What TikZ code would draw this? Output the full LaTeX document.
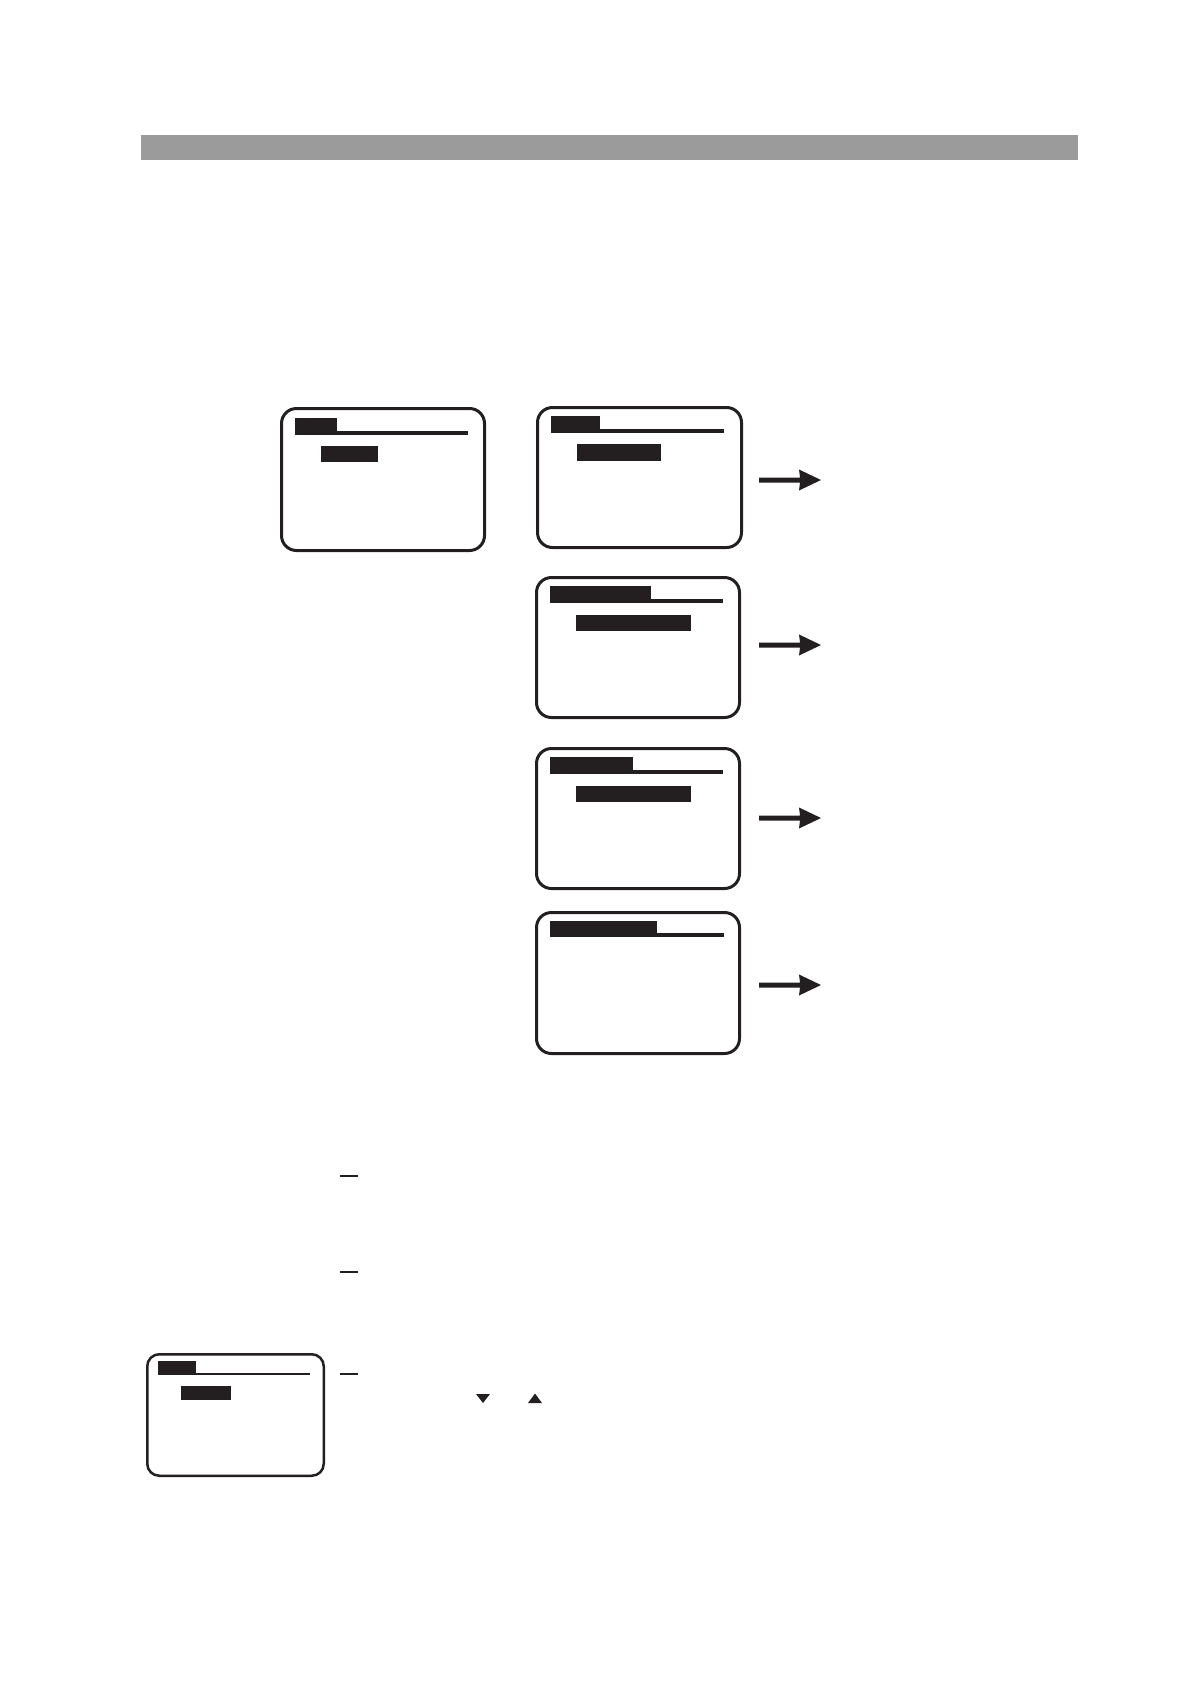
\documentclass[tikz,border=0pt]{standalone}
\usepackage{tikz}
\definecolor{ink}{HTML}{231F20}
\definecolor{barcol}{HTML}{9B9B9B}
\tikzset{
  screen/.style={draw=ink, line width=3pt, rounded corners=15pt},
  smallscreen/.style={draw=ink, line width=2.5pt, rounded corners=12pt},
  inkfill/.style={fill=ink, draw=none},
  dashmark/.style={draw=ink, line width=1.5pt},
}
\begin{document}
\begin{tikzpicture}[x=1pt,y=-1pt]
\useasboundingbox (0,0) rectangle (1190,1684);
% title bar
\fill[barcol] (141,135) rectangle (1078,160);

% Box 1
\draw[screen] (281.5,408.5) rectangle (484.5,550.5);
\fill[inkfill] (295,418) rectangle (337,435);
\fill[inkfill] (337,431) rectangle (468,435);
\fill[inkfill] (321,446) rectangle (378,462);

% Box 2
\draw[screen] (537.5,407.5) rectangle (741.5,547.5);
\fill[inkfill] (551,416) rectangle (600,433);
\fill[inkfill] (600,429) rectangle (724,433);
\fill[inkfill] (577,444) rectangle (661,461);

% Box 3
\draw[screen] (536.5,577.5) rectangle (739.5,717.5);
\fill[inkfill] (550,586) rectangle (651,603);
\fill[inkfill] (651,599) rectangle (723,603);
\fill[inkfill] (576,615) rectangle (691,631);

% Box 4
\draw[screen] (536.5,748.5) rectangle (739.5,888.5);
\fill[inkfill] (550,757) rectangle (633,774);
\fill[inkfill] (633,770) rectangle (723,774);
\fill[inkfill] (576,786) rectangle (691,802);

% Box 5
\draw[screen] (536.5,912.5) rectangle (739.5,1053.5);
\fill[inkfill] (550,921) rectangle (657,937);
\fill[inkfill] (657,933) rectangle (724,937);

% Arrows
\foreach \c in {480,645,818,985}{
  \fill[inkfill] (759,\c-2.5) -- (800,\c-2.5) -- (799,\c-10.5) -- (821,\c) -- (799,\c+10.5) -- (800,\c+2.5) -- (759,\c+2.5) -- cycle;
}

% Small box 6
\draw[smallscreen] (147.25,1354.25) rectangle (323.75,1475.75);
\fill[inkfill] (158,1361) rectangle (196,1375);
\fill[inkfill] (196,1372.7) rectangle (310,1375.3);
\fill[inkfill] (181,1386) rectangle (231,1400);

% dashes
\draw[dashmark] (340,1176) -- (358,1176);
\draw[dashmark] (340,1272) -- (358,1272);
\draw[dashmark] (340,1374) -- (358,1374);

% triangles
\fill[inkfill] (476,1394) -- (490,1394) -- (483,1403) -- cycle;
\fill[inkfill] (528,1403) -- (542,1403) -- (535,1393.5) -- cycle;
\end{tikzpicture}
\end{document}
